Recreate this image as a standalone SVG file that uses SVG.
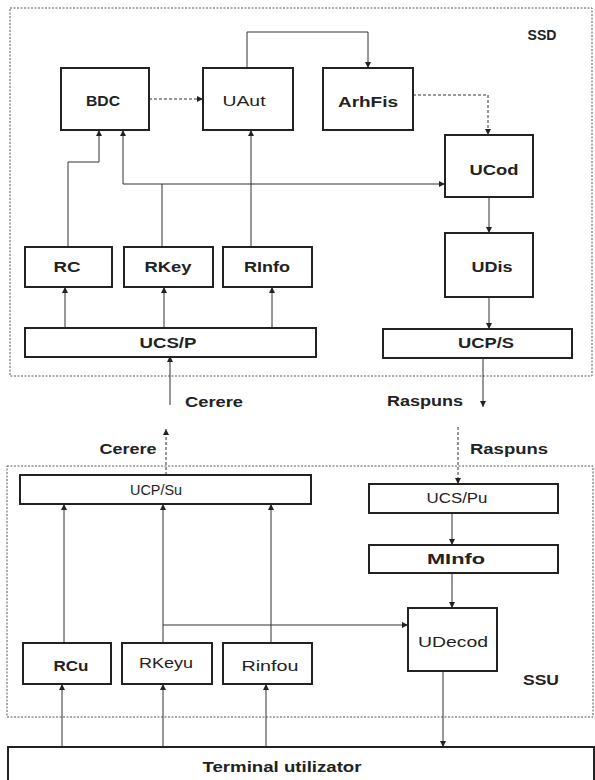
<svg xmlns="http://www.w3.org/2000/svg" width="595" height="780" viewBox="0 0 595 780">
<style>
.frame{fill:none;stroke:#555;stroke-width:1;stroke-dasharray:2,1.5}
.box{fill:#fff;stroke:#222;stroke-width:2}
.lbl{font-family:"Liberation Sans",Arial,sans-serif;font-size:14px;font-weight:bold;fill:#222;text-anchor:middle}
.thin{font-weight:normal}
.cn{fill:none;stroke:#333;stroke-width:1}
.dash{stroke-dasharray:3,2}
</style>
<defs>
<marker id="ah" viewBox="0 0 6 6" refX="6" refY="3" markerWidth="6" markerHeight="6" markerUnits="userSpaceOnUse" orient="auto">
<path d="M0,0 L6,3 L0,6 z" fill="#222"/>
</marker>
</defs>
<rect width="595" height="780" fill="#fff"/>

<g id="SSD">
<rect class="frame" x="10" y="8" width="582" height="368"/>
<text class="lbl" x="542" y="40" textLength="29" lengthAdjust="spacingAndGlyphs">SSD</text>
</g>
<g id="SSU">
<rect class="frame" x="7" y="466" width="586" height="251"/>
<text class="lbl" x="541" y="685" textLength="36" lengthAdjust="spacingAndGlyphs">SSU</text>
</g>

<g id="connectors">
<path class="cn dash" d="M149,99 H203" marker-end="url(#ah)"/>
<path class="cn" d="M247,68 V32 H368 V68" marker-end="url(#ah)"/>
<path class="cn dash" d="M413,95 H488 V135" marker-end="url(#ah)"/>
<path class="cn" d="M68,247 V162 H99 V130" marker-end="url(#ah)"/>
<path class="cn" d="M123,184 V130" marker-end="url(#ah)"/>
<path class="cn" d="M123,184 H445" marker-end="url(#ah)"/>
<path class="cn" d="M162,247 V184"/>
<path class="cn" d="M251,247 V130" marker-end="url(#ah)"/>
<path class="cn" d="M489,197 V233" marker-end="url(#ah)"/>
<path class="cn" d="M489,297 V329" marker-end="url(#ah)"/>
<path class="cn" d="M65,328 V287" marker-end="url(#ah)"/>
<path class="cn" d="M164,328 V287" marker-end="url(#ah)"/>
<path class="cn" d="M272,328 V287" marker-end="url(#ah)"/>
<path class="cn" d="M170,405 V356" marker-end="url(#ah)"/>
<path class="cn" d="M483,358 V407" marker-end="url(#ah)"/>
<path class="cn dash" d="M166,475 V429" marker-end="url(#ah)"/>
<path class="cn dash" d="M458,427 V484" marker-end="url(#ah)"/>
<path class="cn" d="M452,513 V545" marker-end="url(#ah)"/>
<path class="cn" d="M452,573 V608" marker-end="url(#ah)"/>
<path class="cn" d="M64,643 V504" marker-end="url(#ah)"/>
<path class="cn" d="M163,643 V504" marker-end="url(#ah)"/>
<path class="cn" d="M271,643 V504" marker-end="url(#ah)"/>
<path class="cn" d="M163,625 H408" marker-end="url(#ah)"/>
<path class="cn" d="M62,747 V684" marker-end="url(#ah)"/>
<path class="cn" d="M163,747 V684" marker-end="url(#ah)"/>
<path class="cn" d="M266,747 V684" marker-end="url(#ah)"/>
<path class="cn" d="M443,671 V747" marker-end="url(#ah)"/>
</g>

<g id="BDC"><rect class="box" x="61" y="68" width="88" height="62"/><text class="lbl" x="103" y="106" textLength="34" lengthAdjust="spacingAndGlyphs">BDC</text></g>
<g id="UAut"><rect class="box" x="203" y="68" width="90" height="62"/><text class="lbl thin" x="244" y="106" textLength="43" lengthAdjust="spacingAndGlyphs">UAut</text></g>
<g id="ArhFis"><rect class="box" x="323" y="68" width="90" height="62"/><text class="lbl" x="368" y="107" textLength="60" lengthAdjust="spacingAndGlyphs">ArhFis</text></g>
<g id="UCod"><rect class="box" x="445" y="135" width="88" height="62"/><text class="lbl" x="494" y="175" textLength="49" lengthAdjust="spacingAndGlyphs">UCod</text></g>
<g id="UDis"><rect class="box" x="445" y="233" width="88" height="64"/><text class="lbl" x="492" y="272" textLength="41" lengthAdjust="spacingAndGlyphs">UDis</text></g>
<g id="RC"><rect class="box" x="25" y="247" width="87" height="40"/><text class="lbl" x="67" y="272" textLength="27" lengthAdjust="spacingAndGlyphs">RC</text></g>
<g id="RKey"><rect class="box" x="124" y="247" width="89" height="40"/><text class="lbl" x="168" y="272" textLength="47" lengthAdjust="spacingAndGlyphs">RKey</text></g>
<g id="RInfo"><rect class="box" x="223" y="247" width="89" height="40"/><text class="lbl" x="267" y="272" textLength="46" lengthAdjust="spacingAndGlyphs">RInfo</text></g>
<g id="UCS-P"><rect class="box" x="25" y="328" width="291" height="29"/><text class="lbl" x="168" y="348" textLength="57" lengthAdjust="spacingAndGlyphs">UCS/P</text></g>
<g id="UCP-S"><rect class="box" x="383" y="329" width="189" height="29"/><text class="lbl" x="486" y="348" textLength="56" lengthAdjust="spacingAndGlyphs">UCP/S</text></g>

<g id="lbl-cerere1"><text class="lbl" x="214" y="407" textLength="58" lengthAdjust="spacingAndGlyphs">Cerere</text></g>
<g id="lbl-raspuns1"><text class="lbl" x="425" y="406" textLength="76" lengthAdjust="spacingAndGlyphs">Raspuns</text></g>
<g id="lbl-cerere2"><text class="lbl" x="128" y="454" textLength="57" lengthAdjust="spacingAndGlyphs">Cerere</text></g>
<g id="lbl-raspuns2"><text class="lbl" x="509" y="454" textLength="78" lengthAdjust="spacingAndGlyphs">Raspuns</text></g>

<g id="UCP-Su"><rect class="box" x="20" y="475" width="291" height="29"/><text class="lbl thin" x="156" y="495" textLength="52" lengthAdjust="spacingAndGlyphs">UCP/Su</text></g>
<g id="UCS-Pu"><rect class="box" x="369" y="484" width="189" height="29"/><text class="lbl thin" x="457" y="503" textLength="61" lengthAdjust="spacingAndGlyphs">UCS/Pu</text></g>
<g id="MInfo"><rect class="box" x="369" y="545" width="189" height="28"/><text class="lbl" x="456" y="564" textLength="58" lengthAdjust="spacingAndGlyphs">MInfo</text></g>
<g id="UDecod"><rect class="box" x="408" y="608" width="89" height="63"/><text class="lbl thin" x="453" y="647" textLength="70" lengthAdjust="spacingAndGlyphs">UDecod</text></g>
<g id="RCu"><rect class="box" x="23" y="643" width="88" height="41"/><text class="lbl" x="71" y="671" textLength="35" lengthAdjust="spacingAndGlyphs">RCu</text></g>
<g id="RKeyu"><rect class="box" x="122" y="643" width="90" height="41"/><text class="lbl thin" x="166" y="668" textLength="54" lengthAdjust="spacingAndGlyphs">RKeyu</text></g>
<g id="Rinfou"><rect class="box" x="223" y="643" width="89" height="41"/><text class="lbl thin" x="270" y="671" textLength="57" lengthAdjust="spacingAndGlyphs">Rinfou</text></g>

<g id="Terminal"><rect class="box" x="8" y="747" width="586" height="40"/><text class="lbl" x="282" y="772" textLength="159" lengthAdjust="spacingAndGlyphs">Terminal utilizator</text></g>
</svg>
